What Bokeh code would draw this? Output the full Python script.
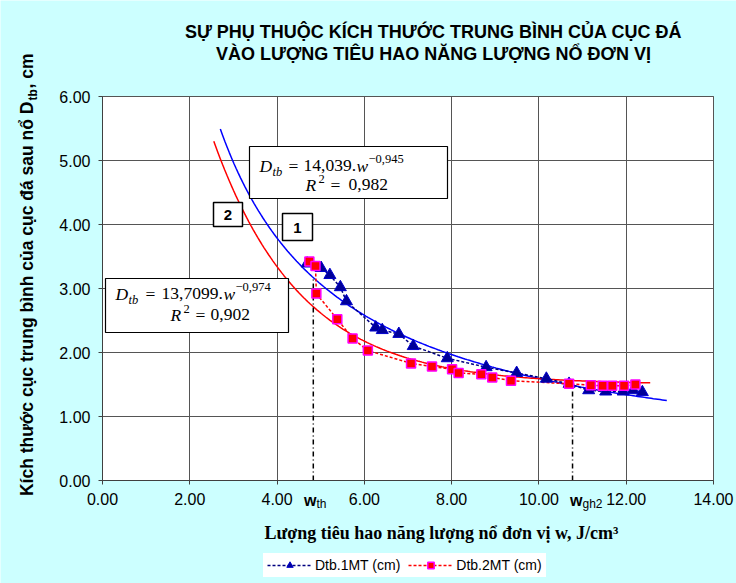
import numpy as np
from bokeh.plotting import figure
from bokeh.models import (Range1d, FixedTicker, NumeralTickFormatter, Label,
                          BoxAnnotation, Legend, LegendItem)
from bokeh.embed import file_html
from bokeh.resources import INLINE

# ---------------- data ----------------
w_1mt = [4.69, 5.01, 5.21, 5.45, 5.59, 6.26, 6.41, 6.79, 7.12, 7.90, 8.79,
         9.49, 10.17, 10.69, 11.14, 11.53, 11.93, 12.16, 12.37]
d_1mt = [3.39, 3.32, 3.21, 3.02, 2.80, 2.39, 2.35, 2.29, 2.10, 1.91, 1.77,
         1.68, 1.59, 1.51, 1.41, 1.39, 1.39, 1.41, 1.38]
w_2mt = [4.74, 4.88, 4.90, 5.38, 5.73, 6.08, 7.07, 7.55, 8.01, 8.16, 8.68,
         8.93, 9.36, 10.69, 11.19, 11.46, 11.68, 11.95, 12.21]
d_2mt = [3.42, 3.35, 2.92, 2.52, 2.22, 2.03, 1.83, 1.78, 1.74, 1.68, 1.66,
         1.61, 1.56, 1.51, 1.49, 1.48, 1.48, 1.48, 1.50]

series_names = ["Dtb.1MT (cm)", "Dtb.2MT (cm)"]
x_ticks = [0, 2, 4, 6, 8, 10, 12, 14]
y_ticks = [0, 1, 2, 3, 4, 5, 6]

# trend line 1: power law D = a * w^b
trend1_a, trend1_b = 14.039, -0.945
trend1_range = (2.70, 12.93)
# trend line 2 (as drawn): D = c + k * exp(-m w)
trend2_c, trend2_k, trend2_m = 1.50, 13.6, 0.50
trend2_range = (2.55, 12.55)

w_th, w_gh2 = 4.83, 10.77

title_lines = ["SỰ PHỤ THUỘC KÍCH THƯỚC TRUNG BÌNH CỦA CỤC ĐÁ",
               "VÀO LƯỢNG TIÊU HAO NĂNG LƯỢNG NỔ ĐƠN VỊ"]
x_title = "Lượng tiêu hao năng lượng nổ đơn vị w, J/cm³"
y_title_main = "Kích thước cục trung bình của cục đá sau nổ D"

# ---------------- geometry: canvas pixel -> data ----------------
W, H = 736, 583
PLOT_L, PLOT_R, PLOT_T, PLOT_B = 102, 713, 96, 480

def X(px):
    return (px - PLOT_L) * (x_ticks[-1] - x_ticks[0]) / (PLOT_R - PLOT_L) + x_ticks[0]

def Y(py):
    return (PLOT_B - py) * (y_ticks[-1] - y_ticks[0]) / (PLOT_B - PLOT_T) + y_ticks[0]

p = figure(width=W, height=H, output_backend="svg", toolbar_location=None,
           x_range=Range1d(X(0), X(W)), y_range=Range1d(Y(H), Y(0)),
           min_border=0)
p.border_fill_color = "#CCFFFF"
p.background_fill_color = "#CCFFFF"
p.outline_line_color = None

# white plot area
p.quad(left=[x_ticks[0]], right=[x_ticks[-1]], bottom=[y_ticks[0]], top=[y_ticks[-1]],
       fill_color="white", line_color="#808080", line_width=1, level="image")

p.xaxis.fixed_location = y_ticks[0]
p.yaxis.fixed_location = x_ticks[0]
p.xaxis.bounds = (x_ticks[0], x_ticks[-1])
p.yaxis.bounds = (y_ticks[0], y_ticks[-1])
for ax, ticks in ((p.xaxis, x_ticks), (p.yaxis, y_ticks)):
    ax.ticker = FixedTicker(ticks=ticks)
    ax.formatter = NumeralTickFormatter(format="0.00")
    ax.axis_line_color = "#404040"
    ax.major_tick_line_color = "#404040"
    ax.major_tick_in = 0
    ax.major_tick_out = 4
    ax.minor_tick_line_color = None
    ax.major_label_text_font = "Liberation Sans"
    ax.major_label_text_font_size = "16px"
    ax.major_label_text_color = "black"
p.xaxis.major_label_standoff = 8
p.yaxis.major_label_standoff = 8

p.xgrid.ticker = FixedTicker(ticks=x_ticks)
p.ygrid.ticker = FixedTicker(ticks=y_ticks)
p.xgrid.cross_bounds = (y_ticks[0], y_ticks[-1])
p.ygrid.cross_bounds = (x_ticks[0], x_ticks[-1])
p.grid.grid_line_color = "#555555"
p.grid.grid_line_width = 1

# ---------------- trend lines ----------------
t1x = np.linspace(*trend1_range, 200)
p.line(t1x, trend1_a * t1x ** trend1_b, line_color="#0000FF", line_width=1.5)
t2x = np.linspace(*trend2_range, 200)
p.line(t2x, trend2_c + trend2_k * np.exp(-trend2_m * t2x),
       line_color="#FF0000", line_width=1.5)

# vertical dash-dot markers
tops = [trend1_a * w ** trend1_b for w in (w_th, w_gh2)]
p.segment(x0=[w_th, w_gh2], y0=[0, 0], x1=[w_th, w_gh2], y1=tops,
          line_color="black", line_width=1.5, line_dash="5 3 1 3")

# ---------------- series ----------------
l1 = p.line(w_1mt, d_1mt, line_color="#000080", line_width=1.5, line_dash="3 2")
l2 = p.line(w_2mt, d_2mt, line_color="#FF0000", line_width=1.5, line_dash="3 2")
m1 = p.scatter(w_1mt, d_1mt, marker="triangle", size=12,
               fill_color="#000099", line_color="#0000CC", line_width=1)
m2 = p.scatter(w_2mt, d_2mt, marker="square", size=9,
               fill_color="#FF0000", line_color="#FF00FF", line_width=1.5)

legend = Legend(items=[LegendItem(label=series_names[0], renderers=[l1, m1]),
                       LegendItem(label=series_names[1], renderers=[l2, m2])],
                orientation="horizontal", location=(263, 6),
                label_text_font="Liberation Sans", label_text_font_size="14px",
                label_text_color="black",
                glyph_width=45, glyph_height=16, label_height=16,
                label_standoff=3, spacing=8, padding=4, margin=0,
                border_line_alpha=0, background_fill_color="white",
                background_fill_alpha=1)
p.add_layout(legend)

# ---------------- boxes ----------------
def box(l, t, r, b, lw=1.2):
    p.add_layout(BoxAnnotation(left=X(l), right=X(r), top=Y(t), bottom=Y(b),
                               fill_color="white", fill_alpha=1,
                               line_color="black", line_width=lw, line_alpha=1))

box(249, 146, 447, 198)
box(105, 278, 288, 332)
box(213, 202, 242, 226, 1.5)
box(282, 213, 312, 240, 1.5)

def lab(px, py, text, size="17.5px", font="Liberation Serif", style="normal",
        align="left", angle=0.0, color="black"):
    p.add_layout(Label(x=X(px), y=Y(py), text=text, text_font=font,
                       text_font_size=size, text_font_style=style,
                       text_align=align, text_baseline="middle",
                       text_color=color, angle=angle))

# equation 1
lab(259, 165, "D", style="italic")
lab(272, 171, "tb", size="12.5px", style="italic")
lab(288, 165, "=")
lab(303, 165, "14,039.")
lab(356, 165, "w", style="italic")
lab(368, 158, "−0,945", size="12.5px")
lab(305, 184, "R", style="italic")
lab(318, 178, "2", size="12.5px")
lab(330, 184, "=")
lab(348, 184, "0,982")

# equation 2
lab(115, 293, "D", style="italic")
lab(128, 299, "tb", size="12.5px", style="italic")
lab(145, 293, "=")
lab(161, 293, "13,7099.")
lab(223, 293, "w", style="italic")
lab(235, 286, "−0,974", size="12.5px")
lab(170, 314, "R", style="italic")
lab(183, 308, "2", size="12.5px")
lab(195, 314, "=")
lab(210, 314, "0,902")

# curve numbers
lab(227.5, 214, "2", size="15px", font="Liberation Sans", style="bold", align="center")
lab(297, 227, "1", size="15px", font="Liberation Sans", style="bold", align="center")

# w_th / w_gh2 markers under the axis
lab(303.5, 500, "w", size="16px", font="Liberation Sans", style="bold")
lab(316, 503, "th", size="12px", font="Liberation Sans")
lab(569.5, 500, "w", size="16px", font="Liberation Sans", style="bold")
lab(582, 503, "gh2", size="12px", font="Liberation Sans")

# titles
lab(433, 31, title_lines[0], size="18px", font="Liberation Sans", style="bold", align="center")
lab(433, 53, title_lines[1], size="18px", font="Liberation Sans", style="bold", align="center")
lab(441, 532, x_title, size="18px", font="Liberation Serif", style="bold", align="center")

# y axis title (rotated, in pieces for the subscript)
lab(26, 101, y_title_main, size="17.5px", font="Liberation Sans", style="bold",
    align="right", angle=np.pi / 2)
lab(32, 100, "tb", size="12px", font="Liberation Sans", style="bold",
    align="left", angle=np.pi / 2)
lab(26, 88, ", cm", size="17.5px", font="Liberation Sans", style="bold",
    align="left", angle=np.pi / 2)

open("out.html", "w").write(file_html(p, INLINE))
